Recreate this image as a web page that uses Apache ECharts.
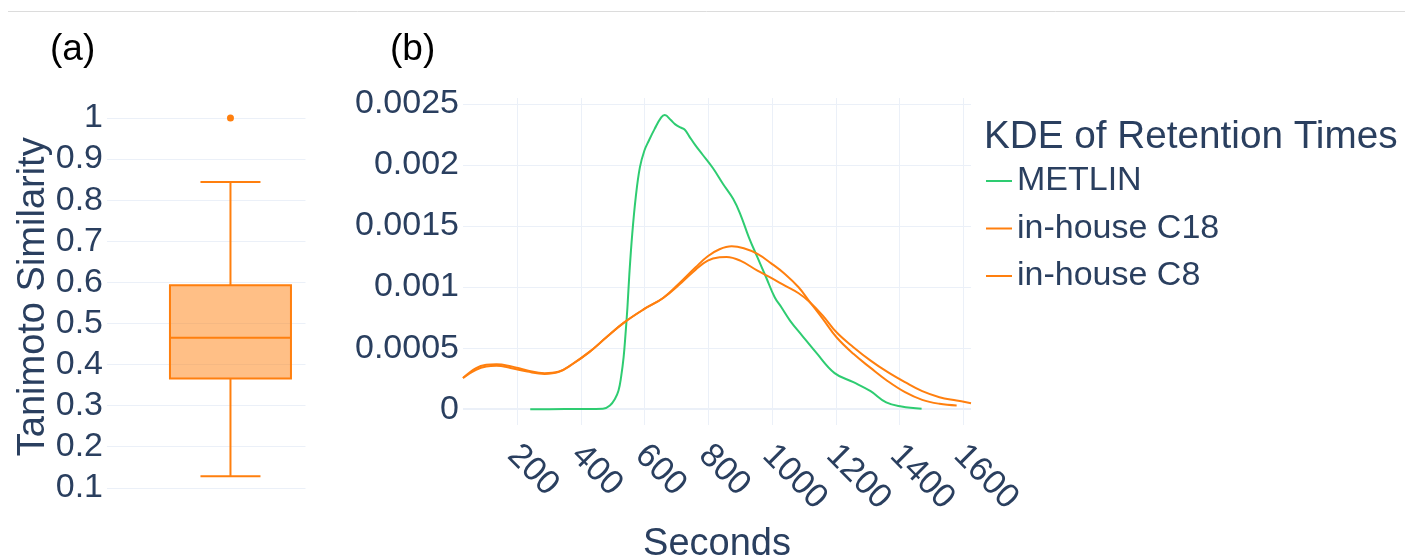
<!DOCTYPE html>
<html><head><meta charset="utf-8">
<script src="https://cdn.jsdelivr.net/npm/echarts@6/dist/echarts.min.js"></script>
<style>html,body{margin:0;padding:0;background:#fff}#c{width:1405px;height:558px}</style>
</head><body><div id="c"></div>
<script>
// ---------- data ----------
// (a) box plot of Tanimoto similarity: [min, Q1, median, Q3, max]
const boxStats = [0.128, 0.366, 0.465, 0.593, 0.844];
const boxOutliers = [1.0];
const boxTicks = [0.1, 0.2, 0.3, 0.4, 0.5, 0.6, 0.7, 0.8, 0.9, 1];
const boxTickLabels = ['0.1', '0.2', '0.3', '0.4', '0.5', '0.6', '0.7', '0.8', '0.9', '1'];

// (b) KDE of retention times
const seriesNames = ['METLIN', 'in-house C18', 'in-house C8'];
const kdeTicksX = [200, 400, 600, 800, 1000, 1200, 1400, 1600];
const kdeTickLabelsX = ['200', '400', '600', '800', '1000', '1200', '1400', '1600'];
const kdeTicksY = [0, 0.0005, 0.001, 0.0015, 0.002, 0.0025];
const kdeTickLabelsY = ['0', '0.0005', '0.001', '0.0015', '0.002', '0.0025'];

const metlinX = [241, 300, 400, 469, 491, 507, 518, 526, 534, 540, 546, 552, 561, 572, 585, 599, 613, 631, 652, 663,
  682, 695, 712, 726, 739, 760, 782, 814, 846, 878, 900, 927, 954, 981, 1008, 1029, 1056, 1094, 1137, 1196,
  1255, 1309, 1358, 1406, 1469];
const metlinY = [0, 0, 0.000001, 0.000003, 0.00003, 0.000085, 0.000153, 0.000262, 0.000426, 0.000617, 0.000835,
  0.001108, 0.001435, 0.001736, 0.001981, 0.002118, 0.0022, 0.002295, 0.002391, 0.00241,
  0.002369, 0.002336, 0.002309, 0.00229, 0.00224, 0.002159, 0.002085, 0.001976, 0.001845, 0.001722,
  0.001599, 0.001408, 0.001244, 0.001081, 0.000917, 0.000835, 0.000726, 0.000603, 0.000467, 0.000295,
  0.000221, 0.000147, 0.000055, 0.000022, 0.000003];

const c18X = [30, 71, 103, 135, 179, 232, 286, 329, 372, 426, 480, 534, 599, 658, 717, 760, 798, 835, 857, 900,
  954, 997, 1040, 1083, 1115, 1159, 1202, 1255, 1309, 1363, 1417, 1471, 1525, 1579, 1624];
const c18Y = [0.000255, 0.000336, 0.000363, 0.000368, 0.000352, 0.000317, 0.000295, 0.000306, 0.000368, 0.000467,
  0.000589, 0.000707, 0.000821, 0.000911, 0.00104, 0.001143, 0.001217, 0.001244, 0.001247, 0.001217,
  0.001135, 0.001075, 0.001012, 0.00095, 0.000884, 0.000767, 0.00063, 0.000508, 0.000398, 0.000303,
  0.000221, 0.000147, 0.000098, 0.000071, 0.000049];

const c8X = [30, 71, 103, 135, 179, 232, 286, 329, 372, 426, 480, 534, 599, 658, 717, 760, 798, 835, 873, 911,
  954, 997, 1040, 1083, 1115, 1159, 1202, 1255, 1309, 1363, 1417, 1471, 1525, 1579];
const c8Y = [0.000255, 0.000322, 0.000349, 0.000355, 0.000338, 0.000308, 0.000289, 0.000303, 0.000366, 0.000467,
  0.000589, 0.000707, 0.000821, 0.000911, 0.001053, 0.001163, 0.001253, 0.00131, 0.001334, 0.001318,
  0.001272, 0.001195, 0.001108, 0.000999, 0.00089, 0.00074, 0.000589, 0.000453, 0.000338, 0.000229,
  0.000139, 0.000076, 0.000044, 0.00003];

// ---------- chart ----------
const FONT = "'Liberation Sans', Arial, Helvetica, sans-serif";
const TXT = '#2a3f5f';
const GRID = '#ebf0f8';
const ORANGE = '#ff7f0e';
const GREEN = '#2ecc71';

function zip(xs, ys) { return xs.map((x, i) => [x, ys[i]]); }
function lookup(vals, labels) {
  return function (v) {
    for (let i = 0; i < vals.length; i++) if (Math.abs(vals[i] - v) < 1e-9) return labels[i];
    return '';
  };
}

const chart = echarts.init(document.getElementById('c'), null, { renderer: 'canvas' });

const HALF_BOX = 60.5, HALF_CAP = 30;

const option = {
  backgroundColor: '#fff',
  animation: false,
  textStyle: { fontFamily: FONT },
  grid: [
    { left: 107, top: 99.5, width: 198.5, height: 394.5, outerBoundsMode: 'none', containLabel: false },
    { left: 463, top: 98, width: 508, height: 327, outerBoundsMode: 'none', containLabel: false }
  ],
  xAxis: [
    { gridIndex: 0, type: 'value', min: -0.622, max: 0.378, show: false },
    {
      gridIndex: 1, type: 'value', min: 30, max: 1624,
      name: 'Seconds', nameLocation: 'middle', nameGap: 101, nameMoveOverlap: false,
      nameTextStyle: { fontSize: 38, color: TXT, fontFamily: FONT },
      axisLine: { show: false },
      axisTick: { show: false, customValues: kdeTicksX },
      axisLabel: {
        customValues: kdeTicksX, formatter: lookup(kdeTicksX, kdeTickLabelsX),
        rotate: -45, align: 'left', verticalAlign: 'top', lineHeight: 19, padding: [0, 0, 0, 3.5], margin: 16,
        fontSize: 34, color: TXT, fontFamily: FONT
      },
      splitLine: { show: true, lineStyle: { color: GRID, width: 1 } }
    }
  ],
  yAxis: [
    {
      gridIndex: 0, type: 'value', min: 0.085, max: 1.045,
      name: 'Tanimoto Similarity', nameLocation: 'middle', nameGap: 54, nameMoveOverlap: false,
      nameTextStyle: { fontSize: 38, color: TXT, fontFamily: FONT },
      axisLine: { show: false },
      axisTick: { show: false, customValues: boxTicks },
      axisLabel: {
        customValues: boxTicks, formatter: lookup(boxTicks, boxTickLabels),
        margin: 4, fontSize: 34, color: TXT, fontFamily: FONT
      },
      splitLine: { show: true, lineStyle: { color: GRID, width: 1 } }
    },
    {
      gridIndex: 1, type: 'value', min: -0.00013, max: 0.00255,
      axisLine: { show: false },
      axisTick: { show: false, customValues: kdeTicksY },
      axisLabel: {
        customValues: kdeTicksY, formatter: lookup(kdeTicksY, kdeTickLabelsY),
        margin: 4, fontSize: 34, color: TXT, fontFamily: FONT
      },
      splitLine: { show: true, lineStyle: { color: GRID, width: 1 } }
    }
  ],
  legend: {
    data: seriesNames, orient: 'vertical', left: 986, top: 161, padding: 0,
    icon: 'rect', itemWidth: 26, itemHeight: 2, itemGap: 7.5,
    textStyle: { fontSize: 34, lineHeight: 40, color: TXT, fontFamily: FONT },
    selectedMode: false
  },
  graphic: [
    { type: 'line', shape: { x1: 8, y1: 11.5, x2: 1405, y2: 11.5 }, style: { stroke: '#dcdcdc', lineWidth: 1 }, silent: true },
    { type: 'text', style: { x: 50, y: 50, text: '(a)', fill: '#000', font: '37px ' + FONT, textVerticalAlign: 'middle' }, silent: true },
    { type: 'text', style: { x: 390, y: 50, text: '(b)', fill: '#000', font: '37px ' + FONT, textVerticalAlign: 'middle' }, silent: true },
    { type: 'text', style: { x: 984, y: 137, text: 'KDE of Retention Times', fill: TXT, font: '38.7px ' + FONT, textVerticalAlign: 'middle' }, silent: true }
  ],
  series: [
    {
      type: 'custom', xAxisIndex: 0, yAxisIndex: 0, silent: true,
      data: [[0].concat(boxStats)],
      encode: { x: 0, y: [1, 2, 3, 4, 5] },
      renderItem: function (params, api) {
        const x = api.value(0);
        const lo = api.coord([x, api.value(1)]);
        const q1 = api.coord([x, api.value(2)]);
        const md = api.coord([x, api.value(3)]);
        const q3 = api.coord([x, api.value(4)]);
        const hi = api.coord([x, api.value(5)]);
        const cx = lo[0];
        const st = { stroke: ORANGE, lineWidth: 2 };
        return {
          type: 'group',
          children: [
            { type: 'line', shape: { x1: cx, y1: q3[1], x2: cx, y2: hi[1] }, style: st },
            { type: 'line', shape: { x1: cx, y1: q1[1], x2: cx, y2: lo[1] }, style: st },
            { type: 'line', shape: { x1: cx - HALF_CAP, y1: hi[1], x2: cx + HALF_CAP, y2: hi[1] }, style: st },
            { type: 'line', shape: { x1: cx - HALF_CAP, y1: lo[1], x2: cx + HALF_CAP, y2: lo[1] }, style: st },
            { type: 'rect', shape: { x: cx - HALF_BOX, y: q3[1], width: 2 * HALF_BOX, height: q1[1] - q3[1] },
              style: { fill: 'rgba(255,127,14,0.5)', stroke: ORANGE, lineWidth: 2 } },
            { type: 'line', shape: { x1: cx - HALF_BOX, y1: md[1], x2: cx + HALF_BOX, y2: md[1] }, style: st }
          ]
        };
      }
    },
    {
      type: 'scatter', xAxisIndex: 0, yAxisIndex: 0, silent: true,
      data: boxOutliers.map(v => [0, v]), symbolSize: 7,
      itemStyle: { color: ORANGE, opacity: 1 }
    },
    {
      name: seriesNames[0], type: 'line', xAxisIndex: 1, yAxisIndex: 1,
      data: zip(metlinX, metlinY), showSymbol: false, smooth: 0.4,
      lineStyle: { color: GREEN, width: 2 }, itemStyle: { color: GREEN },
      markLine: {
        silent: true, symbol: 'none', label: { show: false },
        lineStyle: { color: GRID, width: 2, type: 'solid' },
        data: [{ yAxis: 0 }], z: 1
      },
      z: 3
    },
    {
      name: seriesNames[1], type: 'line', xAxisIndex: 1, yAxisIndex: 1,
      data: zip(c18X, c18Y), showSymbol: false, smooth: 0.4,
      lineStyle: { color: ORANGE, width: 2 }, itemStyle: { color: ORANGE }, z: 4
    },
    {
      name: seriesNames[2], type: 'line', xAxisIndex: 1, yAxisIndex: 1,
      data: zip(c8X, c8Y), showSymbol: false, smooth: 0.4,
      lineStyle: { color: ORANGE, width: 2 }, itemStyle: { color: ORANGE }, z: 5
    }
  ]
};
chart.setOption(option);
</script></body></html>
